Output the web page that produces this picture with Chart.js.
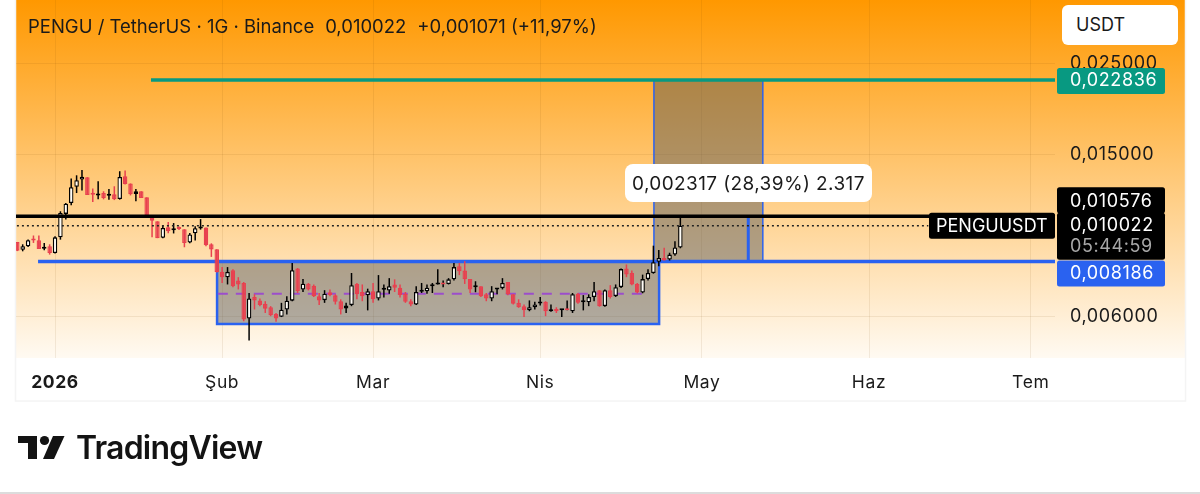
<!DOCTYPE html>
<html>
<head>
<meta charset="utf-8">
<title>PENGU / TetherUS</title>
<script src="https://cdn.jsdelivr.net/npm/chart.js@4"></script>
<style>
  html, body { margin: 0; padding: 0; background: #fff; width: 1200px; height: 494px; overflow: hidden; font-family: Inter, sans-serif; }
  #wrap { position: relative; width: 1200px; height: 494px; }
  canvas { position: absolute; left: 0; top: 0; }
  .head { position: absolute; left: 28px; top: 15px; font-size: 18.5px; line-height: 22px; color: #1a1a1a; white-space: pre; }
  .head span { margin-left: 11px; }
  .unit { position: absolute; left: 1062px; top: 5px; width: 102px; height: 40px; padding-left: 14px; background: #fff; border-radius: 6px; font-size: 18px; line-height: 40px; color: #1a1a1a; }
  .brand { position: absolute; left: 76px; top: 429px; font-size: 32px; line-height: 38px; font-weight: 600; color: #131313; letter-spacing: -0.8px; }
  .logo { position: absolute; left: 0; top: 430px; }
  .foot { position: absolute; left: 0; top: 492px; width: 1200px; height: 2px; background: #dcdcdc; }
</style>
</head>
<body>
<div id="wrap">
  <canvas id="chart" width="1200" height="494"></canvas>
  <div class="head">PENGU / TetherUS · 1G · Binance<span>0,010022</span><span>+0,001071 (+11,97%)</span></div>
  <div class="unit">USDT</div>
  <svg class="logo" width="70" height="36" viewBox="0 430 70 36">
    <path d="M18 436h19v23h-9v-16H18z" fill="#131313"/>
    <circle cx="44.5" cy="440.5" r="4.6" fill="#131313"/>
    <path d="M53 436h11.5L54 459H43z" fill="#131313"/>
  </svg>
  <div class="brand">TradingView</div>
  <div class="foot"></div>
</div>
<script>
// daily candles, first one is 7 days before Jan 1
const firstDay = -7;
const opens = [
  .00914,.00875,.00892,.00929,.00923,.00880,.00892,
  .00859,.00938,.01071,.01139,.01248,.01300,.01318,.01205,.01188,.01205,
  .01187,.01196,.01165,.01325,.01272,.01199,.01217,.01176,.01061,.01027,
  .00936,.00993,.00977,.00993,.00982,.00911,.00960,.00986,.00992,.00902,
  .00877,.00772,.00749,.00779,.00735,.00725,.00593,.00670,.00657,.00645,
  .00632,.00608,.00599,.00624,.00656,.00787,.00699,.00722,.00714,.00673,
  .00658,.00688,.00676,.00654,.00628,.00640,.00721,.00689,.00676,.00692,
  .00664,.00698,.00695,.00719,.00706,.00682,.00654,.00642,.00690,.00692,
  .00712,.00719,.00722,.00721,.00740,.00797,.00778,.00741,.00708,.00712,
  .00680,.00664,.00699,.00704,.00729,.00680,.00648,.00636,.00621,.00632,
  .00646,.00652,.00618,.00626,.00621,.00624,.00618,.00682,.00650,.00650,
  .00670,.00696,.00636,.00696,.00673,.00708,.00787,.00767,.00721,.00687,
  .00741,.00767,.00817,.00835,.00828,.00851,.00886
];
const highs = [
  .00914,.00902,.00927,.00948,.00948,.00909,.00902,
  .00944,.01087,.01139,.01308,.01332,.01372,.01318,.01236,.01288,.01217,
  .01233,.01252,.01363,.01368,.01272,.01233,.01217,.01176,.01061,.01027,
  .01004,.01023,.01017,.00997,.00982,.00962,.00999,.01040,.00992,.00907,
  .00877,.00793,.00793,.00783,.00749,.00729,.00685,.00680,.00664,.00654,
  .00636,.00612,.00648,.00673,.00812,.00789,.00741,.00725,.00719,.00685,
  .00696,.00699,.00680,.00661,.00648,.00767,.00725,.00719,.00702,.00725,
  .00758,.00719,.00745,.00740,.00719,.00689,.00661,.00712,.00725,.00719,
  .00725,.00783,.00735,.00745,.00812,.00812,.00820,.00741,.00732,.00712,
  .00685,.00712,.00704,.00745,.00729,.00680,.00661,.00642,.00657,.00652,
  .00670,.00654,.00642,.00632,.00624,.00657,.00685,.00685,.00677,.00680,
  .00729,.00696,.00699,.00716,.00719,.00787,.00805,.00778,.00725,.00760,
  .00783,.00895,.00873,.00885,.00860,.00918,.01050
];
const lows = [
  .00868,.00867,.00888,.00909,.00878,.00872,.00851,
  .00856,.00926,.01037,.01125,.01205,.01222,.01192,.01145,.01163,.01163,
  .01160,.01158,.01161,.01264,.01189,.01150,.01172,.01057,.00939,.00934,
  .00934,.00960,.00959,.00978,.00887,.00907,.00922,.00980,.00892,.00840,
  .00769,.00725,.00719,.00708,.00699,.00584,.00524,.00624,.00636,.00612,
  .00601,.00582,.00598,.00607,.00654,.00685,.00689,.00695,.00670,.00640,
  .00648,.00673,.00642,.00607,.00612,.00636,.00661,.00654,.00621,.00648,
  .00657,.00668,.00682,.00689,.00668,.00648,.00636,.00640,.00685,.00682,
  .00685,.00719,.00708,.00719,.00735,.00758,.00721,.00685,.00688,.00670,
  .00654,.00654,.00680,.00699,.00676,.00642,.00630,.00598,.00618,.00624,
  .00638,.00601,.00616,.00612,.00598,.00621,.00612,.00645,.00621,.00636,
  .00654,.00634,.00634,.00664,.00670,.00705,.00749,.00716,.00684,.00684,
  .00735,.00764,.00797,.00823,.00823,.00846,.00882
];
const closes = [
  .00870,.00892,.00923,.00922,.00878,.00884,.00859,
  .00938,.01077,.01135,.01245,.01295,.01321,.01192,.01194,.01197,.01172,
  .01196,.01163,.01320,.01268,.01196,.01217,.01172,.01061,.01031,.00934,
  .00989,.00971,.00984,.00984,.00909,.00953,.00988,.00990,.00897,.00876,
  .00771,.00749,.00772,.00712,.00719,.00590,.00664,.00657,.00640,.00627,
  .00604,.00593,.00623,.00656,.00779,.00692,.00722,.00699,.00673,.00657,
  .00682,.00677,.00652,.00624,.00638,.00716,.00680,.00673,.00692,.00661,
  .00692,.00700,.00712,.00706,.00677,.00652,.00642,.00689,.00692,.00706,
  .00716,.00721,.00719,.00740,.00793,.00775,.00740,.00699,.00712,.00673,
  .00664,.00692,.00702,.00725,.00680,.00645,.00632,.00621,.00632,.00642,
  .00648,.00618,.00621,.00618,.00623,.00621,.00680,.00648,.00654,.00670,
  .00692,.00636,.00696,.00670,.00708,.00784,.00760,.00719,.00687,.00741,
  .00767,.00815,.00835,.00823,.00851,.00886,.01002
];

// axes
const monthDays = [0, 31, 59, 90, 120, 151, 181];
const monthLabels = ['2026', 'Şub', 'Mar', 'Nis', 'May', 'Haz', 'Tem'];
const priceTicks = [0.025, 0.015, 0.006];

// levels drawn on the chart
const targetLevel = 0.022836;
const resistLevel = 0.010576;
const lastPrice = 0.010022;
const supportLevel = 0.008186;
const midLevel = 0.00682;
const rangeLow = 0.00575;
const measureTop = 0.010503;

// [left day, right day, top price, bottom price]
const boxes = [
  [30.06, 112.06, supportLevel, rangeLow],
  [111.1, 131.3, targetLevel, supportLevel]
];

const UP = '#fffdf8';
const DOWN = '#e8404f';
const BLACK = '#000';
const BLUE = '#2a62f0';
const GREEN = '#089981';

const fmt = v => v.toFixed(6).replace('.', ',');
const candleX = i => firstDay + i;
const isUp = i => closes[i] >= opens[i];

function hline(data, color, width, order, dash) {
  return {
    type: 'line', data, borderColor: color, borderWidth: width, order,
    borderDash: dash || [], pointRadius: 0, fill: false, tension: 0
  };
}

const backdrop = {
  id: 'backdrop',
  beforeDraw(chart) {
    const { ctx, chartArea: a } = chart;
    ctx.letterSpacing = '0.6px';
    ctx.save();
    // panel with the orange fade
    const g = ctx.createLinearGradient(0, a.top, 0, a.bottom);
    g.addColorStop(0, '#ff9800');
    g.addColorStop(1, '#fffaf2');
    ctx.fillStyle = g;
    ctx.fillRect(16, a.top, 1169, a.bottom - a.top);
    ctx.strokeStyle = '#f4f4f4';
    ctx.lineWidth = 1.5;
    ctx.strokeRect(15.5, -5, 1170, 406);
    ctx.restore();
  },
  beforeDatasetsDraw(chart) {
    const { ctx, scales: { x, y } } = chart;
    ctx.save();
    boxes.forEach(([d0, d1, top, bot], n) => {
      const l = x.getPixelForValue(d0), r = x.getPixelForValue(d1);
      const t = y.getPixelForValue(top), b = y.getPixelForValue(bot);
      ctx.fillStyle = 'rgba(80,85,90,0.46)';
      ctx.fillRect(l, t, r - l, b - t);
      ctx.strokeStyle = BLUE;
      ctx.lineWidth = n === 0 ? 2.5 : 1.5;
      ctx.strokeRect(l, t, r - l, b - t);
    });
    ctx.restore();
  }
};

function tag(ctx, left, top, w, h, color) {
  ctx.fillStyle = color;
  ctx.beginPath();
  ctx.roundRect(left, top, w, h, 2.5);
  ctx.fill();
}

const labels = {
  id: 'labels',
  afterDraw(chart) {
    const { ctx, scales: { x, y } } = chart;
    ctx.save();
    ctx.font = '18px Inter';
    ctx.textBaseline = 'middle';
    const tagLeft = 1057, textLeft = 1070;

    // price tags on the axis
    const py = v => y.getPixelForValue(v);
    tag(ctx, tagLeft, py(targetLevel) - 12, 108, 26, GREEN);
    tag(ctx, tagLeft, py(resistLevel) - 29, 108, 26, BLACK);
    tag(ctx, tagLeft, py(lastPrice) - 13, 108, 47, BLACK);
    tag(ctx, tagLeft, py(supportLevel) - 1, 108, 26, BLUE);
    ctx.fillStyle = '#fff';
    ctx.fillText(fmt(targetLevel), textLeft, py(targetLevel) + 1);
    ctx.fillText(fmt(resistLevel), textLeft, py(resistLevel) - 15);
    ctx.fillText(fmt(lastPrice), textLeft, py(lastPrice));
    ctx.fillText(fmt(supportLevel), textLeft, py(supportLevel) + 12);
    ctx.fillStyle = '#a8a8a8';
    ctx.fillText('05:44:59', textLeft, py(lastPrice) + 21);

    // symbol tag
    tag(ctx, 929, py(lastPrice) - 13, 126, 26, BLACK);
    ctx.fillStyle = '#fff';
    ctx.letterSpacing = '0px';
    ctx.fillText('PENGUUSDT', 936, py(lastPrice) + 1);

    // measure tooltip
    ctx.fillStyle = '#fff';
    ctx.beginPath();
    ctx.roundRect(625, 164, 247, 38, 8);
    ctx.fill();
    ctx.fillStyle = '#1a1a1a';
    ctx.font = '19px Inter';
    ctx.letterSpacing = '0.4px';
    ctx.fillText('0,002317 (28,39%) 2.317', 632, 184);
    ctx.restore();
  }
};

new Chart(document.getElementById('chart'), {
  data: {
    datasets: [
      hline([{ x: -8, y: resistLevel }, { x: 186, y: resistLevel }], BLACK, 3.5, 0),
      hline([{ x: -8, y: lastPrice }, { x: 162, y: lastPrice }], '#222', 1.5, 1, [2, 3]),
      {
        type: 'bar', grouped: false, barThickness: 4.5, borderWidth: 1.3, borderSkipped: false,
        inflateAmount: 0, minBarLength: 2, order: 2,
        data: opens.map((o, i) => ({ x: candleX(i), y: [o, closes[i]] })),
        backgroundColor: opens.map((o, i) => isUp(i) ? UP : DOWN),
        borderColor: opens.map((o, i) => isUp(i) ? BLACK : DOWN)
      },
      {
        type: 'bar', grouped: false, barThickness: 1.5, borderWidth: 0, inflateAmount: 0, order: 3,
        data: lows.map((l, i) => ({ x: candleX(i), y: [l, highs[i]] })),
        backgroundColor: opens.map((o, i) => isUp(i) || Math.abs(closes[i] - o) < 0.00004 ? BLACK : DOWN)
      },
      hline([{ x: 128.6, y: supportLevel }, { x: 128.6, y: measureTop }], BLUE, 3, 1),
      hline([{ x: 30.2, y: midLevel }, { x: 110.2, y: midLevel }], '#9c4dcc', 2, 4, [10, 8]),
      hline([{ x: -3.15, y: supportLevel }, { x: 186, y: supportLevel }], BLUE, 3.5, 5),
      hline([{ x: 17.8, y: targetLevel }, { x: 186, y: targetLevel }], GREEN, 3.5, 5)
    ]
  },
  options: {
    responsive: false,
    animation: false,
    layout: { padding: { left: 16, right: 0, top: 0, bottom: 0 } },
    plugins: { legend: { display: false }, tooltip: { enabled: false } },
    scales: {
      x: {
        type: 'linear', min: -7.24, max: 185.5, offset: false,
        grid: { color: 'rgba(110,70,0,0.09)', drawTicks: false, offset: false },
        border: { display: false },
        afterBuildTicks: s => { s.ticks = monthDays.map(v => ({ value: v })); },
        afterFit: s => { s.height = 136; s.paddingLeft = 0; s.paddingRight = 0; },
        ticks: {
          autoSkip: false, maxRotation: 0, padding: 14, color: '#1a1a1a',
          font: c => ({ family: 'Inter', size: 17.5, weight: c.index === 0 ? 700 : 400 }),
          callback: (v, i) => monthLabels[i]
        }
      },
      y: {
        type: 'logarithmic', position: 'right', min: 0.004745, max: 0.03586,
        grid: { color: 'rgba(110,70,0,0.09)', drawTicks: false },
        border: { display: false },
        afterBuildTicks: s => { s.ticks = priceTicks.map(v => ({ value: v })); },
        afterFit: s => { s.width = 145; s.paddingTop = 0; s.paddingBottom = 0; },
        ticks: {
          padding: 15, color: '#1a1a1a', font: { family: 'Inter', size: 18 },
          callback: v => fmt(v)
        }
      }
    }
  },
  plugins: [backdrop, labels]
});
</script>
</body>
</html>
